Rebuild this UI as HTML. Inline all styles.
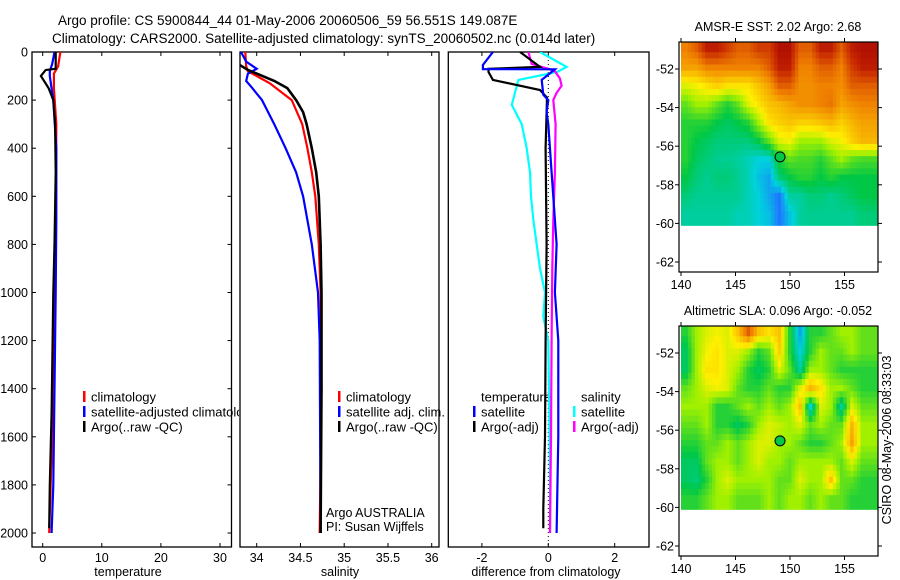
<!DOCTYPE html>
<html><head><meta charset="utf-8">
<style>
html,body{margin:0;padding:0;background:#fff;}
svg{display:block;font-family:"Liberation Sans",sans-serif;}
</style></head>
<body>
<svg id="fig" width="900" height="580" viewBox="0 0 900 580" xmlns="http://www.w3.org/2000/svg">
<defs>
<clipPath id="c1"><rect x="32" y="52" width="207" height="496"/></clipPath>
<clipPath id="c2"><rect x="240" y="52" width="199" height="496"/></clipPath>
<clipPath id="c3"><rect x="448" y="52" width="201" height="496"/></clipPath>
</defs>
<text x="58" y="25" font-size="13.5">Argo profile: CS 5900844_44 01-May-2006 20060506_59 56.551S 149.087E</text>
<text x="52" y="43" font-size="13.5">Climatology: CARS2000. Satellite-adjusted climatology: synTS_20060502.nc (0.014d later)</text>
<g id="root"></g>
</svg>
<script>
// ---------- data ----------
const depthTicks = [0,200,400,600,800,1000,1200,1400,1600,1800,2000];
const tempTicks = [0,10,20,30];
const salTicks = [34,34.5,35,35.5,36];
const diffTicks = [-2,0,2];
const latTicks = [-52,-54,-56,-58,-60,-62];
const lonTicks = [140,145,150,155];

const tClimDepth = [0,60,90,150,300,800,1200,1600,2000];
const tClimVal   = [3.0,2.6,1.9,1.9,2.3,2.2,1.9,1.6,1.1];
const tSatDepth  = [0,50,80,100,200,400,700,1000,1400,1800,2000];
const tSatVal    = [2.0,1.6,1.2,1.2,1.8,2.3,2.3,2.2,2.0,1.8,1.5];
const tArgoDepth = [0,70,75,100,150,200,300,500,800,1000,1500,1800,1980];
const tArgoVal   = [2.2,2.2,0.5,-0.3,1.0,1.8,2.1,2.2,2.0,1.8,1.5,1.2,1.1];

const sClimDepth = [0,60,80,100,130,200,300,400,500,600,800,1000,1400,2000];
const sClimVal   = [33.87,33.88,33.9,34.0,34.15,34.4,34.52,34.58,34.63,34.67,34.71,34.73,34.74,34.72];
const sSatDepth  = [0,40,70,90,120,150,200,300,400,500,600,800,1000,1200,2000];
const sSatVal    = [33.82,33.88,34.0,33.9,33.88,33.95,34.06,34.2,34.33,34.45,34.53,34.63,34.7,34.72,34.73];
const sArgoDepth = [55,75,90,120,150,200,250,300,400,500,600,800,1000,1400,2000];
const sArgoVal   = [33.81,33.9,34.0,34.2,34.35,34.45,34.53,34.57,34.63,34.68,34.71,34.73,34.74,34.74,34.73];

const dTSatDepth  = [0,54,71,72,116,178,200,250,300,500,800,1000,1200,1600,2000];
const dTSatVal    = [-1.67,-1.97,-1.97,0.2,-0.2,-0.15,0,-0.05,0,0.1,0.25,0.2,0.3,0.3,0.25];
const dTArgoDepth = [0,62,70,83,116,158,190,400,800,1200,1600,1900,1980];
const dTArgoVal   = [-0.85,-0.25,-1.8,-1.8,-1.67,-0.25,-0.04,-0.08,-0.05,-0.08,-0.1,-0.15,-0.15];
const dSSatDepth  = [0,62,83,116,220,300,400,500,600,700,800,900,1000,1100,1200,1400,1800,2000];
const dSSatVal    = [-0.25,0.55,0.27,-0.9,-1.1,-0.8,-0.65,-0.55,-0.52,-0.45,-0.35,-0.25,-0.1,-0.15,0,0.02,0.05,0.05];
const dSArgoDepth = [0,50,70,80,110,140,170,200,300,500,700,900,1200,1600,2000];
const dSArgoVal   = [-0.6,-0.5,0,0.2,0.35,0.4,0.25,0.15,0.22,0.2,0.15,0.12,0.1,0.08,0.05];

const sstGrid = [
[.8,.85,.95,.95,.9,.85,.85,.9,.9,.97,.97,.85,.85,.95,.95,.85,.95,.97],
[.75,.75,.8,.8,.8,.8,.8,.8,.85,.95,.95,.8,.8,.85,.85,.8,.9,.95],
[.6,.62,.65,.68,.65,.65,.65,.7,.75,.85,.85,.78,.78,.8,.8,.78,.85,.85],
[.5,.55,.55,.5,.45,.5,.6,.65,.7,.72,.75,.78,.78,.8,.82,.75,.78,.8],
[.45,.45,.45,.42,.4,.42,.45,.55,.65,.68,.7,.68,.68,.7,.72,.68,.72,.75],
[.45,.42,.4,.38,.38,.38,.38,.42,.5,.6,.62,.55,.55,.55,.6,.62,.68,.72],
[.45,.4,.38,.36,.36,.35,.33,.3,.3,.45,.5,.48,.48,.45,.5,.55,.5,.48],
[.42,.38,.36,.38,.38,.36,.33,.28,.25,.38,.42,.45,.45,.42,.45,.42,.42,.42],
[.38,.36,.36,.36,.36,.36,.33,.3,.25,.2,.35,.35,.38,.38,.36,.38,.4,.42],
[.35,.35,.35,.35,.35,.33,.33,.3,.28,.2,.28,.35,.36,.36,.36,.36,.36,.38]];
const slaGrid = [
[.45,.55,.6,.62,.6,.7,.85,.7,.65,.7,.45,.25,.45,.45,.5,.55,.55,.5],
[.4,.55,.62,.65,.6,.6,.55,.45,.5,.68,.45,.3,.45,.55,.5,.5,.55,.5],
[.4,.55,.65,.65,.6,.55,.45,.4,.45,.6,.5,.35,.55,.55,.5,.45,.45,.45],
[.5,.55,.6,.62,.6,.5,.45,.45,.5,.45,.45,.6,.72,.65,.55,.55,.5,.45],
[.55,.55,.55,.45,.45,.5,.55,.5,.55,.5,.55,.7,.3,.6,.55,.35,.6,.5],
[.5,.5,.55,.45,.45,.4,.45,.55,.6,.58,.55,.6,.5,.55,.5,.5,.72,.55],
[.45,.45,.5,.5,.55,.5,.55,.6,.6,.55,.55,.5,.45,.45,.5,.55,.75,.55],
[.4,.4,.5,.55,.55,.5,.55,.6,.55,.55,.5,.55,.55,.55,.55,.5,.6,.5],
[.4,.38,.45,.55,.6,.55,.55,.55,.55,.5,.5,.6,.55,.55,.7,.5,.5,.45],
[.45,.45,.5,.55,.55,.5,.5,.5,.55,.5,.55,.55,.5,.55,.5,.5,.45,.45]];
const gridLon0 = 140, gridLat0 = -50.5, gridStep = 0.95;
const argoLon = 149.087, argoLat = -56.551;

// ---------- helpers ----------
const NS = "http://www.w3.org/2000/svg";
const root = document.getElementById('root');
function el(tag, attrs, parent){ const e=document.createElementNS(NS,tag); for(const k in attrs) e.setAttribute(k,attrs[k]); (parent||root).appendChild(e); return e; }
function txt(s,x,y,anchor,size,parent){ const t=el('text',{x:x,y:y,'text-anchor':anchor||'start','font-size':size||13},parent); t.textContent=s; return t; }

const yD = d => 52 + d*0.2405;
const xT = v => 42.7 + v*5.91;
const xS = v => 256.7 + (v-34)*87.5;
const xDf = v => 548.3 + v*33.2;

function frame(x0,x1,name){
  const r=el('rect',{x:x0,y:52,width:x1-x0,height:495,fill:'none',stroke:'#000','stroke-width':1.3});
  
  
}
function xticks(vals,sx,axisName,labelName,label,cx){
  const g=el('g',{});
  
  
  vals.forEach(v=>{
    const x=sx(v);
    el('line',{x1:x,x2:x,y1:52,y2:56,stroke:'#000'},g);
    el('line',{x1:x,x2:x,y1:547,y2:543,stroke:'#000'},g);
    const t=txt(String(v),x,562,'middle',12.5,g);
    
    
  });
  const l=txt(label,cx,576,'middle',12.5);
  
  
}
function series(dep,val,sx,color,name,clip,w){
  const pts=dep.map((d,i)=>sx(val[i]).toFixed(1)+','+yD(d).toFixed(1)).join(' ');
  const p=el('polyline',{points:pts,fill:'none',stroke:color,'stroke-width':w||2.2,'clip-path':'url(#'+clip+')'});
  
  
}
function legendEntry(x,y,color,label,name,clip){
  const g=el('g',clip?{'clip-path':'url(#'+clip+')'}:{});
  
  
  if(color) el('rect',{x:x,y:y-6,width:2.5,height:11,fill:color},g);
  txt(label,x+8,y+4.5,'start',13,g);
}

// ---------- panel 1: temperature ----------
frame(32,231.5,'temperature-panel');
const yg=el('g',{});


depthTicks.forEach(d=>{
  el('line',{x1:32,x2:36,y1:yD(d),y2:yD(d),stroke:'#000'},yg);
  el('line',{x1:231.5,x2:227.5,y1:yD(d),y2:yD(d),stroke:'#000'},yg);
  const t=txt(String(d),28,yD(d)+4.5,'end',12.5,yg);
  
  
});
xticks(tempTicks,xT,'temperature-x-axis','temperature-axis-title','temperature',128);
series(tClimDepth,tClimVal,xT,'#ff0000','temp-climatology-line','c1');
series(tSatDepth,tSatVal,xT,'#0000ff','temp-satellite-line','c1');
series(tArgoDepth,tArgoVal,xT,'#000000','temp-argo-line','c1');
legendEntry(83,397,'#ff0000','climatology','legend-climatology','c1');
legendEntry(83,412,'#0000ff','satellite-adjusted climatology','legend-satellite-adjusted','c1');
legendEntry(83,427,'#000000','Argo(..raw -QC)','legend-argo','c1');

// ---------- panel 2: salinity ----------
frame(240,439,'salinity-panel');
xticks(salTicks,xS,'salinity-x-axis','salinity-axis-title','salinity',340);
series(sClimDepth,sClimVal,xS,'#ff0000','sal-climatology-line','c2');
series(sSatDepth,sSatVal,xS,'#0000ff','sal-satellite-line','c2');
series(sArgoDepth,sArgoVal,xS,'#000000','sal-argo-line','c2',2.6);
legendEntry(338,397,'#ff0000','climatology','legend-sal-climatology');
legendEntry(338,412,'#0000ff','satellite adj. clim.','legend-sal-satellite');
legendEntry(338,427,'#000000','Argo(..raw -QC)','legend-sal-argo');
let a1=txt('Argo AUSTRALIA',326,517,'start',12.5);  
let a2=txt('PI: Susan Wijffels',326,531,'start',12.5);  

// ---------- panel 3: difference ----------
frame(448.3,649,'difference-panel');
xticks(diffTicks,xDf,'difference-x-axis','difference-axis-title','difference from climatology',546);
const z=el('line',{x1:xDf(0),x2:xDf(0),y1:52,y2:547,stroke:'#000','stroke-dasharray':'1,3'});


legendEntry(473,397,null,'temperature','legend-temperature-header');
legendEntry(473,412,'#0000ff','satellite','legend-temp-satellite');
legendEntry(473,427,'#000000','Argo(-adj)','legend-temp-argo');
legendEntry(573,397,null,'salinity','legend-salinity-header');
legendEntry(573,412,'#00ffff','satellite','legend-sal-satellite-diff');
legendEntry(573,427,'#ff00ff','Argo(-adj)','legend-sal-argo-diff');
series(dSSatDepth,dSSatVal,xDf,'#00ffff','diff-sal-satellite-line','c3');
series(dSArgoDepth,dSArgoVal,xDf,'#ff00ff','diff-sal-argo-line','c3');
series(dTArgoDepth,dTArgoVal,xDf,'#000000','diff-temp-argo-line','c3');
series(dTSatDepth,dTSatVal,xDf,'#0000ff','diff-temp-satellite-line','c3');

// ---------- maps ----------
const stops=[[0,[0,0,200]],[0.2,[30,120,255]],[0.3,[0,210,220]],[0.42,[0,200,70]],[0.55,[160,240,0]],[0.63,[255,240,0]],[0.8,[240,130,0]],[0.93,[200,40,0]],[1,[160,0,0]]];
function cmap(v){
  for(let i=1;i<stops.length;i++){ if(v<=stops[i][0]){ const a=stops[i-1],b=stops[i]; const t=(v-a[0])/(b[0]-a[0]); return 'rgb('+a[1].map((c,k)=>Math.round(c+(b[1][k]-c)*t)).join(',')+')'; } }
  return 'rgb(160,0,0)';
}
function sample(grid,r,c){
  // bilinear interpolation between cell centres (r,c in cell units)
  const R=grid.length, C=grid[0].length;
  r=Math.min(Math.max(r-0.5,0),R-1); c=Math.min(Math.max(c-0.5,0),C-1);
  const r0=Math.floor(r), c0=Math.floor(c), r1=Math.min(r0+1,R-1), c1=Math.min(c0+1,C-1);
  const fr=r-r0, fc=c-c0;
  return grid[r0][c0]*(1-fr)*(1-fc)+grid[r0][c1]*(1-fr)*fc+grid[r1][c0]*fr*(1-fc)+grid[r1][c1]*fr*fc;
}
function drawMap(top,lat52y,title,grid,name){
  const left=679,right=878,bottom=top+230;
  const lx=lon=>681+(lon-140)*10.9;
  const ly=lat=>lat52y+(-52-lat)*19.3;
  const g=el('g',{});
  
  
  const sub=3, R=grid.length, C=grid[0].length;
  for(let r=0;r<R*sub;r++) for(let c=0;c<C*sub;c++){
    const v=sample(grid,(r+0.5)/sub,(c+0.5)/sub);
    const x0=Math.max(left,lx(gridLon0+c*gridStep/sub));
    const x1=(c==C*sub-1)?right:lx(gridLon0+(c+1)*gridStep/sub);
    const y0=Math.max(top,ly(gridLat0-r*gridStep/sub));
    const y1=(r==R*sub-1)?ly(-60.1):ly(gridLat0-(r+1)*gridStep/sub);
    const cell=el('rect',{x:x0.toFixed(2),y:y0.toFixed(2),width:(x1-x0+0.5).toFixed(2),height:(y1-y0+0.5).toFixed(2),fill:cmap(v)},g);
    
    
  }
  el('rect',{x:left,y:top,width:right-left,height:bottom-top,fill:'none',stroke:'#000','stroke-width':1.2},g);
  latTicks.forEach(l=>{
    el('line',{x1:left,x2:left-4,y1:ly(l),y2:ly(l),stroke:'#000'},g);
    el('line',{x1:right,x2:right+4,y1:ly(l),y2:ly(l),stroke:'#000'},g);
    txt(String(l),674,ly(l)+4.5,'end',12.5,g);
  });
  lonTicks.forEach(l=>{
    el('line',{x1:lx(l),x2:lx(l),y1:top,y2:top-4,stroke:'#000'},g);
    el('line',{x1:lx(l),x2:lx(l),y1:bottom,y2:bottom+4,stroke:'#000'},g);
    txt(String(l),lx(l),bottom+17,'middle',12.5,g);
  });
  const t=txt(title,778,top-11,'middle',12.5);
  
  
  const m=el('circle',{cx:lx(argoLon),cy:ly(argoLat),r:5,fill:cmap(0.42),stroke:'#000','stroke-width':1});
  
  
}
drawMap(42,69,'AMSR-E SST: 2.02 Argo: 2.68',sstGrid,'sst-map');
drawMap(326,353,'Altimetric SLA: 0.096 Argo: -0.052',slaGrid,'sla-map');
const cs=el('text',{x:0,y:0,'font-size':12.5,'text-anchor':'middle',transform:'translate(891,440) rotate(-90)'});
cs.textContent='CSIRO 08-May-2006 08:33:03';


</script>
</body></html>
